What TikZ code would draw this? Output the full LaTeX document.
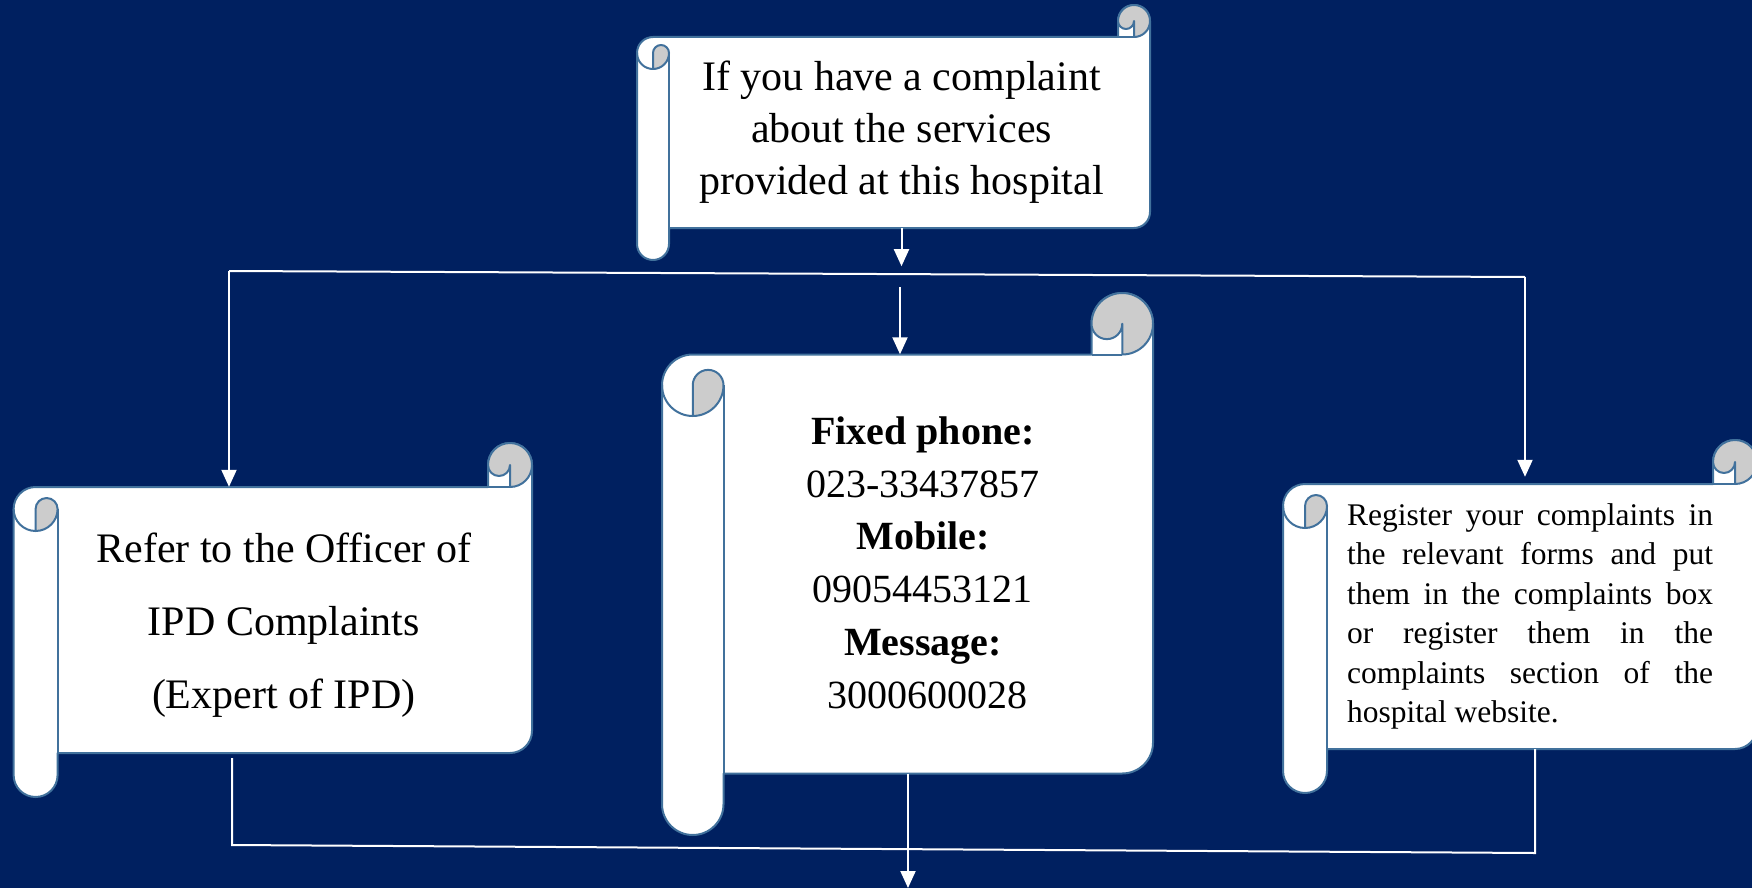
\documentclass[tikz,border=0pt]{standalone}
\usepackage{fontspec}
\setmainfont{Liberation Serif}
\usetikzlibrary{arrows.meta,calc}
\definecolor{navy}{HTML}{002060}
\definecolor{scrollline}{HTML}{41719C}
\definecolor{curlgray}{HTML}{CCCCCC}
\tikzset{
  scrollbody/.style={fill=white,draw=scrollline,line width=2pt,line join=round},
  scrollcurl/.style={fill=curlgray,draw=scrollline,line width=2pt,line join=round},
  scrolledge/.style={draw=scrollline,line width=2pt}
}
% #1 left, #2 top, #3 right, #4 bottom, #5 roll size
\newcommand{\scrollshape}[5]{%
  \pgfmathsetmacro\scA{#5}\pgfmathsetmacro\scB{#5/2}\pgfmathsetmacro\scC{#5/4}
  \path[scrollbody] ({#1+\scB},{#2+\scA}) -- ({#3-\scA},{#2+\scA}) -- ({#3-\scA},{#2+\scB})
    arc[start angle=180,end angle=360,radius=\scB] -- ({#3},{#4-1.5*\scA})
    arc[start angle=0,end angle=90,radius=\scB] -- ({#1+\scA},{#4-\scA}) -- ({#1+\scA},{#4-\scB})
    arc[start angle=0,end angle=180,radius=\scB] -- ({#1},{#2+1.5*\scA})
    arc[start angle=180,end angle=270,radius=\scB] -- cycle;
  \path[scrollcurl] ({#3-\scA},{#2+\scB}) arc[start angle=180,end angle=360,radius=\scB]
    arc[start angle=0,end angle=90,radius=\scB] -- ({#3-\scB},{#2+\scB})
    arc[start angle=0,end angle=180,radius=\scC] -- cycle;
  \path[scrolledge] ({#3-\scA},{#2+\scA}) -- ({#3-\scB},{#2+\scA});
  \path[scrollcurl] ({#1+\scB},{#2+2*\scA}) arc[start angle=90,end angle=0,radius=\scB]
    arc[start angle=0,end angle=-180,radius=\scC] -- cycle;
  \path[scrolledge] ({#1},{#2+1.5*\scA}) arc[start angle=180,end angle=90,radius=\scB];
  \path[scrolledge] ({#1+\scA},{#2+1.5*\scA}) -- ({#1+\scA},{#4-\scA});
}

\begin{document}
\begin{tikzpicture}[x=1pt,y=-1pt,
  txt/.style={align=center,inner sep=0pt,text=black},
  wire/.style={white,line width=2pt},
  arr/.style={wire,-{Triangle[length=17pt,width=15pt]}}]
\useasboundingbox (0,0) rectangle (1752,888);
\fill[navy] (0,0) rectangle (1752,888);

\scrollshape{637}{5}{1150}{260}{32}
\scrollshape{662}{293}{1153}{835}{61.5}
\scrollshape{13.6}{443}{532}{797}{44}
\scrollshape{1283}{440}{1757}{793}{44}

\node[txt,minimum width=465pt,minimum height=191pt,font=\fontsize{42}{52}\selectfont] (top) at (901.5,132.5)
  {If you have a complaint\\about the services\\provided at this hospital\rule[-3pt]{0pt}{0pt}};
\node[txt,minimum width=399pt,minimum height=419pt,font=\fontsize{40}{52.8}\selectfont] (mid) at (922.9,564)
  {\textbf{Fixed phone:}\\023-33437857\\\textbf{Mobile:}\\09054453121\\\textbf{Message:}\\\hspace*{9pt}3000600028\rule[-3pt]{0pt}{0pt}};
\node[txt,minimum width=452pt,minimum height=266pt,font=\fontsize{42}{73}\selectfont] (left) at (283.8,620)
  {\rule{0pt}{40pt}Refer to the Officer of\\IPD Complaints\\(Expert of IPD)};
\node[txt,align=justify,text width=366pt,minimum height=265pt,font=\fontsize{31.5}{39.5}\selectfont] (right) at (1530,616.5)
  {\tolerance=10000\hyphenpenalty=10000 Register your complaints in\linebreak the relevant forms and put\linebreak them in the complaints box\linebreak or register them in the\linebreak complaints section of the\linebreak hospital website.};

\coordinate (barL) at (229,271);
\coordinate (barR) at (1525,277);
\coordinate (midin) at (900,287);
\coordinate (joinL) at (232,845);
\coordinate (joinR) at (1535,853);
\coordinate (out) at (908,888);

\draw[arr] (top.south) -- ++(0,38);
\draw[wire] (barL) -- (barR);
\draw[arr] (barL) -- (barL |- left.north);
\draw[arr,shorten >=7pt] (barR) -- (barR |- right.north);
\draw[arr] (midin) -- (midin |- mid.north);
\draw[wire,shorten <=5pt] (joinL |- left.south) -- (joinL) -- (joinR) -- (joinR |- right.south);
\draw[arr] (mid.south -| out) -- (out);
\end{tikzpicture}
\end{document}
